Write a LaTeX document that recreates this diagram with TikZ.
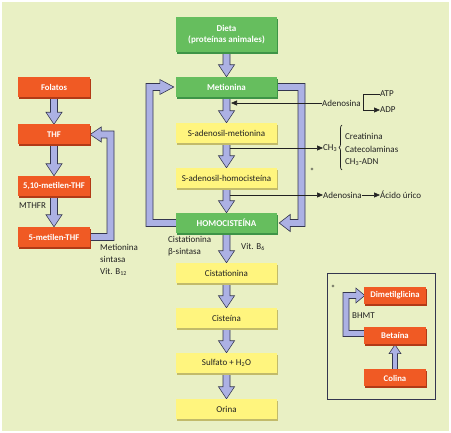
\documentclass[tikz,border=0pt]{standalone}
\usepackage{fontspec}
\setmainfont{Carlito}
\usetikzlibrary{shadows,calc,arrows.meta,decorations.pathreplacing}
\definecolor{bg}{HTML}{E9F0C4}
\definecolor{grn}{HTML}{66BE5E}
\definecolor{grnd}{HTML}{3E9447}
\definecolor{org}{HTML}{F05A24}
\definecolor{orgd}{HTML}{B23A16}
\definecolor{yel}{HTML}{FFF57E}
\definecolor{yeld}{HTML}{C2BB6A}
\definecolor{lav}{HTML}{ACB1E4}
\definecolor{lavd}{HTML}{34364F}
\definecolor{ink}{HTML}{222222}
\pgfdeclarelayer{back}\pgfdeclarelayer{arr}\pgfsetlayers{back,arr,main}
\tikzset{
  box/.style={rectangle, inner sep=0pt, minimum width=101pt, minimum height=20pt, align=center},
  gbox/.style={box, fill=grn, text=white, font=\bfseries\fontsize{9}{11.5}\selectfont,
    drop shadow={shadow xshift=0.8pt, shadow yshift=-1.6pt, fill=grnd, opacity=1}},
  ybox/.style={box, fill=yel, text=ink, font=\fontsize{9}{11}\selectfont,
    drop shadow={shadow xshift=0.8pt, shadow yshift=-1.6pt, fill=yeld, opacity=1}},
  obox/.style={box, minimum width=72pt, fill=org, text=white, font=\bfseries\fontsize{8.7}{11}\selectfont,
    drop shadow={shadow xshift=0.8pt, shadow yshift=-1.6pt, fill=orgd, opacity=1}},
  ibox/.style={obox, minimum width=62pt, minimum height=17pt},
  blk/.style={draw=lavd, fill=lav, line width=0.6pt, line join=miter},
  thinarr/.style={draw=ink, line width=0.6pt, -{Triangle[length=6pt,width=5pt]}},
  lbl/.style={text=ink, font=\fontsize{9}{12}\selectfont, inner sep=0pt, align=left},
}
% vertical block arrows (canvas computations)
\newcommand\blkdown[5]{% from, to, half shaft, half head, head length
  \draw[blk] let \p1=(#1), \p2=(#2) in
   (\x1-#3pt,\y1) -- (\x1-#3pt,\y2+#5pt) -- (\x1-#4pt,\y2+#5pt) -- (\x1,\y2)
   -- (\x1+#4pt,\y2+#5pt) -- (\x1+#3pt,\y2+#5pt) -- (\x1+#3pt,\y1);}
\newcommand\blkup[5]{%
  \draw[blk] let \p1=(#1), \p2=(#2) in
   (\x1-#3pt,\y1) -- (\x1-#3pt,\y2-#5pt) -- (\x1-#4pt,\y2-#5pt) -- (\x1,\y2)
   -- (\x1+#4pt,\y2-#5pt) -- (\x1+#3pt,\y2-#5pt) -- (\x1+#3pt,\y1);}
\begin{document}
\begin{tikzpicture}[x=1pt,y=-1pt]
\begin{pgfonlayer}{back}
\fill[white] (0,0) rectangle (451,433);
\fill[bg] (2,2) rectangle (449,431);
\end{pgfonlayer}
\useasboundingbox (0,0) rectangle (451,433);

% central column
\node[gbox, minimum height=35pt] (dieta) at (226.5,34.5) {Dieta\\(proteínas animales)};
\node[gbox] (met) at (226.5,87) {Metionina};
\node[ybox] (sam) at (226.5,133) {S-adenosil-metionina};
\node[ybox] (sah) at (226.5,178) {S-adenosil-homocisteína};
\node[gbox] (homo) at (226.5,223) {HOMOCISTEÍNA};
\node[ybox] (cist) at (226.5,273) {Cistationina};
\node[ybox] (cis) at (226.5,318) {Cisteína};
\node[ybox] (sulf) at (226.5,363) {Sulfato + H\textsubscript{2}O};
\node[ybox] (orina) at (226.5,409) {Orina};

% left column
\node[obox] (fol) at (54,87) {Folatos};
\node[obox] (thf) at (54,134.5) {THF};
\node[obox] (m510) at (54,186) {5,10-metilen-THF};
\node[obox] (m5) at (54,237) {5-metilen-THF};

% inset
\draw[lavd, line width=0.8pt] (327,273) rectangle (435,399);
\node[ibox] (dmg) at (395,295.5) {Dimetilglicina};
\node[ibox] (bet) at (395,336) {Betaína};
\node[ibox] (col) at (395,378) {Colina};
\node[lbl] (ast2) at (333,288) {*};
\node[lbl, anchor=west] (bhmt) at (352,316) {BHMT};

\begin{pgfonlayer}{arr}
\blkdown{dieta.south}{met.north}{3.5}{8}{12}
\blkdown{met.south}{sam.north}{3.5}{8}{12}
\blkdown{sam.south}{sah.north}{3.5}{8}{12}
\blkdown{sah.south}{homo.north}{3.5}{8}{12}
\blkdown{homo.south}{cist.north}{3.5}{8}{12}
\blkdown{cist.south}{cis.north}{3.5}{8}{12}
\blkdown{cis.south}{sulf.north}{3.5}{8}{12}
\blkdown{sulf.south}{orina.north}{3.5}{8}{12}
\blkdown{fol.south}{thf.north}{3.5}{8}{12}
\blkdown{thf.south}{m510.north}{3.5}{8}{12}
\blkdown{m510.south}{m5.north}{3.5}{8}{12}
\blkup{col.north}{bet.south}{2.5}{6}{9}
% big left loop: homocisteina -> metionina
\draw[blk] let \p1=(homo.west), \p2=(met.west) in
  (\x1,\y1-3.5pt) -- (146pt,\y1-3.5pt) -- (146pt,\y2+3.5pt) -- (\x2-16pt,\y2+3.5pt)
  -- (\x2-16pt,\y2+7.5pt) -- (\x2-2pt,\y2) -- (\x2-16pt,\y2-7.5pt) -- (\x2-16pt,\y2-3.5pt)
  -- (153pt,\y2-3.5pt) -- (153pt,\y1+3.5pt) -- (\x1,\y1+3.5pt);
% right loop: metionina -> homocisteina
\draw[blk] let \p1=(met.east), \p2=(homo.east) in
  (\x1,\y1+3.5pt) -- (305pt,\y1+3.5pt) -- (305pt,\y2-3.5pt) -- (\x2+13pt,\y2-3.5pt)
  -- (\x2+13pt,\y2-8.5pt) -- (\x2+2pt,\y2) -- (\x2+13pt,\y2+8.5pt) -- (\x2+13pt,\y2+3.5pt)
  -- (298pt,\y2+3.5pt) -- (298pt,\y1-3.5pt) -- (\x1,\y1-3.5pt);
% THF loop
\draw[blk] let \p1=(m5.east), \p2=(thf.east) in
  (\x1,\y1-3.5pt) -- (114pt,\y1-3.5pt) -- (114pt,\y2+3.5pt) -- (\x2+11pt,\y2+3.5pt)
  -- (\x2+11pt,\y2+7.5pt) -- (\x2,\y2) -- (\x2+11pt,\y2-7.5pt) -- (\x2+11pt,\y2-3.5pt)
  -- (107pt,\y2-3.5pt) -- (107pt,\y1+3.5pt) -- (\x1,\y1+3.5pt);
% BHMT loop
\draw[blk] let \p1=(bet.west), \p2=(dmg.west) in
  (\x1,\y1-0.5pt) -- (343pt,\y1-0.5pt) -- (343pt,\y2+3pt) -- (\x2-8pt,\y2+3pt)
  -- (\x2-8pt,\y2+7.5pt) -- (\x2+1pt,\y2) -- (\x2-8pt,\y2-7.5pt) -- (\x2-8pt,\y2-3pt)
  -- (349pt,\y2-3pt) -- (349pt,\y1+5.5pt) -- (\x1,\y1+5.5pt);
\end{pgfonlayer}

% right-side thin arrows and labels
\node[lbl, anchor=west] (ad1) at (322,103) {Adenosina};
\coordinate (ad1tip) at (231,103);
\draw[thinarr] (ad1.west) -- (ad1tip);
\node[lbl, anchor=west] (atp) at (380,94) {ATP};
\node[lbl, anchor=west] (adp) at (380,110) {ADP};
\coordinate (brk) at (363,94);
\draw[thinarr] (atp.west) -- (brk) |- (adp.west);

\coordinate (ch3s) at (229.5,148);
\node[lbl, anchor=west] (ch3) at (323,148) {CH\textsubscript{3}};
\draw[thinarr] (ch3s) -- (ch3.west);
\draw[ink, line width=0.7pt, decorate, decoration={brace, amplitude=3pt}] (342,170) -- (342,125);
\node[lbl, anchor=west] (crea) at (345,136) {Creatinina};
\node[lbl, anchor=west] (cate) at (345,149) {Catecolaminas};
\node[lbl, anchor=west] (adn) at (345,162) {CH\textsubscript{3}-ADN};

\node[lbl] (ast1) at (312,171) {*};
\coordinate (ad2s) at (229.5,195);
\node[lbl, anchor=west] (ad2) at (323,195) {Adenosina};
\node[lbl, anchor=west] (acido) at (380,195) {Ácido úrico};
\draw[thinarr] (ad2s) -- (ad2.west);
\draw[thinarr] (ad2.east) -- (acido.west);

% other labels
\node[lbl, anchor=west] (mthfr) at (19,206) {MTHFR};
\node[lbl, anchor=north west] (ms) at (100,244) {Metionina\\sintasa\\Vit. B\textsubscript{12}};
\node[lbl, anchor=north west] (cbs) at (168,236) {Cistationina\\β-sintasa};
\node[lbl, anchor=west] (b6) at (241,247) {Vit. B\textsubscript{6}};
\end{tikzpicture}
\end{document}
